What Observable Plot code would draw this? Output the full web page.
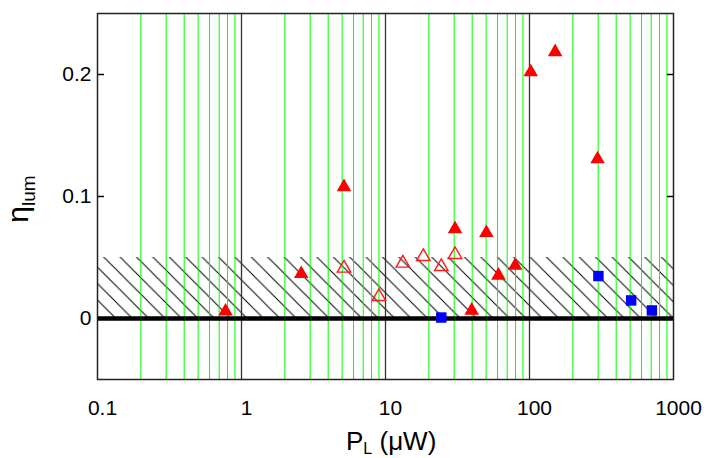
<!DOCTYPE html>
<html><head><meta charset="utf-8">
<script src="https://cdn.jsdelivr.net/npm/d3@7"></script>
<script src="https://cdn.jsdelivr.net/npm/@observablehq/plot@0.6"></script>
<style>body{margin:0;background:#fff} svg{display:block}</style>
</head><body><div id="chart"></div>
<script>
// --- data ---
const filledTriX = [0.775, 2.6, 5.15, 30.4, 39.7, 50.2, 60.9, 79.5, 102, 150.7, 297];
const filledTriY = [0.0058, 0.0366, 0.1078, 0.0734, 0.0066, 0.0702, 0.0353, 0.0433, 0.2020, 0.2185, 0.1307];
const openTriX = [5.15, 9.0, 13.2, 18.3, 24.4, 30.4];
const openTriY = [0.0412, 0.0179, 0.0453, 0.0507, 0.0425, 0.0524];
const squareX = [24.4, 301, 508, 708];
const squareY = [0.0008, 0.0348, 0.0148, 0.0066];
const xTicks = [0.1, 1, 10, 100, 1000];
const xTickLabels = ["0.1", "1", "10", "100", "1000"];
const yTicks = [0, 0.1, 0.2];
const yTickLabels = ["0", "0.1", "0.2"];
const majorLines = [1, 10, 100];
const minorLines = [0.2, 0.3, 0.4, 0.5, 0.6, 0.7, 0.8, 0.9,
                    2, 3, 4, 5, 6, 7, 8, 9,
                    20, 30, 40, 50, 60, 70, 80, 90,
                    200, 300, 400, 500, 600, 700, 800, 900];
const hatchBand = [{lo: 0, hi: 0.05}];
const zeroLine = [0];
const xDomain = [0.1, 1000];
const yDomain = [-0.05, 0.25];

const filled = filledTriX.map((x, i) => ({x, y: filledTriY[i]}));
const open = openTriX.map((x, i) => ({x, y: openTriY[i]}));
const squares = squareX.map((x, i) => ({x, y: squareY[i]}));

const font = "'Liberation Sans', Arial, sans-serif";

const plot = Plot.plot({
  width: 704, height: 458,
  marginLeft: 97, marginRight: 31, marginTop: 13, marginBottom: 79,
  style: {fontFamily: font, fontSize: "21px", color: "black", background: "white"},
  x: {type: "log", domain: xDomain, label: null},
  y: {domain: yDomain, label: null},
  marks: [
    Plot.rect(hatchBand, {x1: xDomain[0], x2: xDomain[1], y1: "lo", y2: "hi", fill: "url(#hatch)"}),
    Plot.ruleX(minorLines, {stroke: "#00ff00", strokeWidth: 1}),
    Plot.ruleX(majorLines, {stroke: "#333", strokeWidth: 1.3}),
    Plot.ruleY(zeroLine, {stroke: "black", strokeWidth: 4.5}),
    Plot.dot(open, {x: "x", y: "y", symbol: "triangle", r: 5, fill: "none", stroke: "#ff1a1a", strokeWidth: 1.4}),
    Plot.dot(filled, {x: "x", y: "y", symbol: "triangle", r: 5.4, fill: "#ff0000", stroke: "none"}),
    Plot.dot(squares, {x: "x", y: "y", symbol: "square", r: 5.9, fill: "#0000ff", stroke: "none"}),
    Plot.axisY(yTicks, {anchor: "left", tickSize: -7, tickPadding: 13, strokeWidth: 1.5, label: null,
      tickFormat: d => yTickLabels[yTicks.indexOf(d)], fontSize: 21}),
    Plot.axisY(yTicks, {anchor: "right", tickSize: -7, strokeWidth: 1.5, label: null, tickFormat: () => ""}),
    Plot.axisX(xTicks, {anchor: "bottom", tickSize: 0, tickPadding: 21, dx: 5, label: null,
      tickFormat: d => xTickLabels[xTicks.indexOf(d)], fontSize: 21}),
    Plot.frame({stroke: "#222", strokeWidth: 1.5})
  ]
});

const svg = d3.select(plot);
const defs = svg.insert("defs", ":first-child");
const pat = defs.append("pattern").attr("id", "hatch").attr("patternUnits", "userSpaceOnUse")
  .attr("x", 10.7).attr("y", 0).attr("width", 16.4).attr("height", 16.4);
pat.append("path").attr("d", "M0,0L16.4,16.4M-4,12.4L4,20.4M12.4,-4L20.4,4")
  .attr("stroke", "black").attr("stroke-width", 1).attr("fill", "none");

// y-axis label: η_lum
const yl = svg.append("text").attr("transform", "translate(28,199) rotate(-90)")
  .attr("text-anchor", "middle").attr("font-family", font).attr("fill", "black");
yl.append("tspan").attr("font-size", 30).text("η");
yl.append("tspan").attr("font-size", 19).attr("dy", 7).text("lum");

// x-axis label: P_L (μW)
const xl = svg.append("text").attr("x", 346).attr("y", 450).attr("text-anchor", "start")
  .attr("font-family", font).attr("fill", "black");
xl.append("tspan").attr("font-size", 26).text("P");
xl.append("tspan").attr("font-size", 16).attr("dy", 4).text("L");
xl.append("tspan").attr("font-size", 26).attr("dy", -4).text("\u00a0(μW)");

document.getElementById("chart").appendChild(plot);
</script>
</body></html>
